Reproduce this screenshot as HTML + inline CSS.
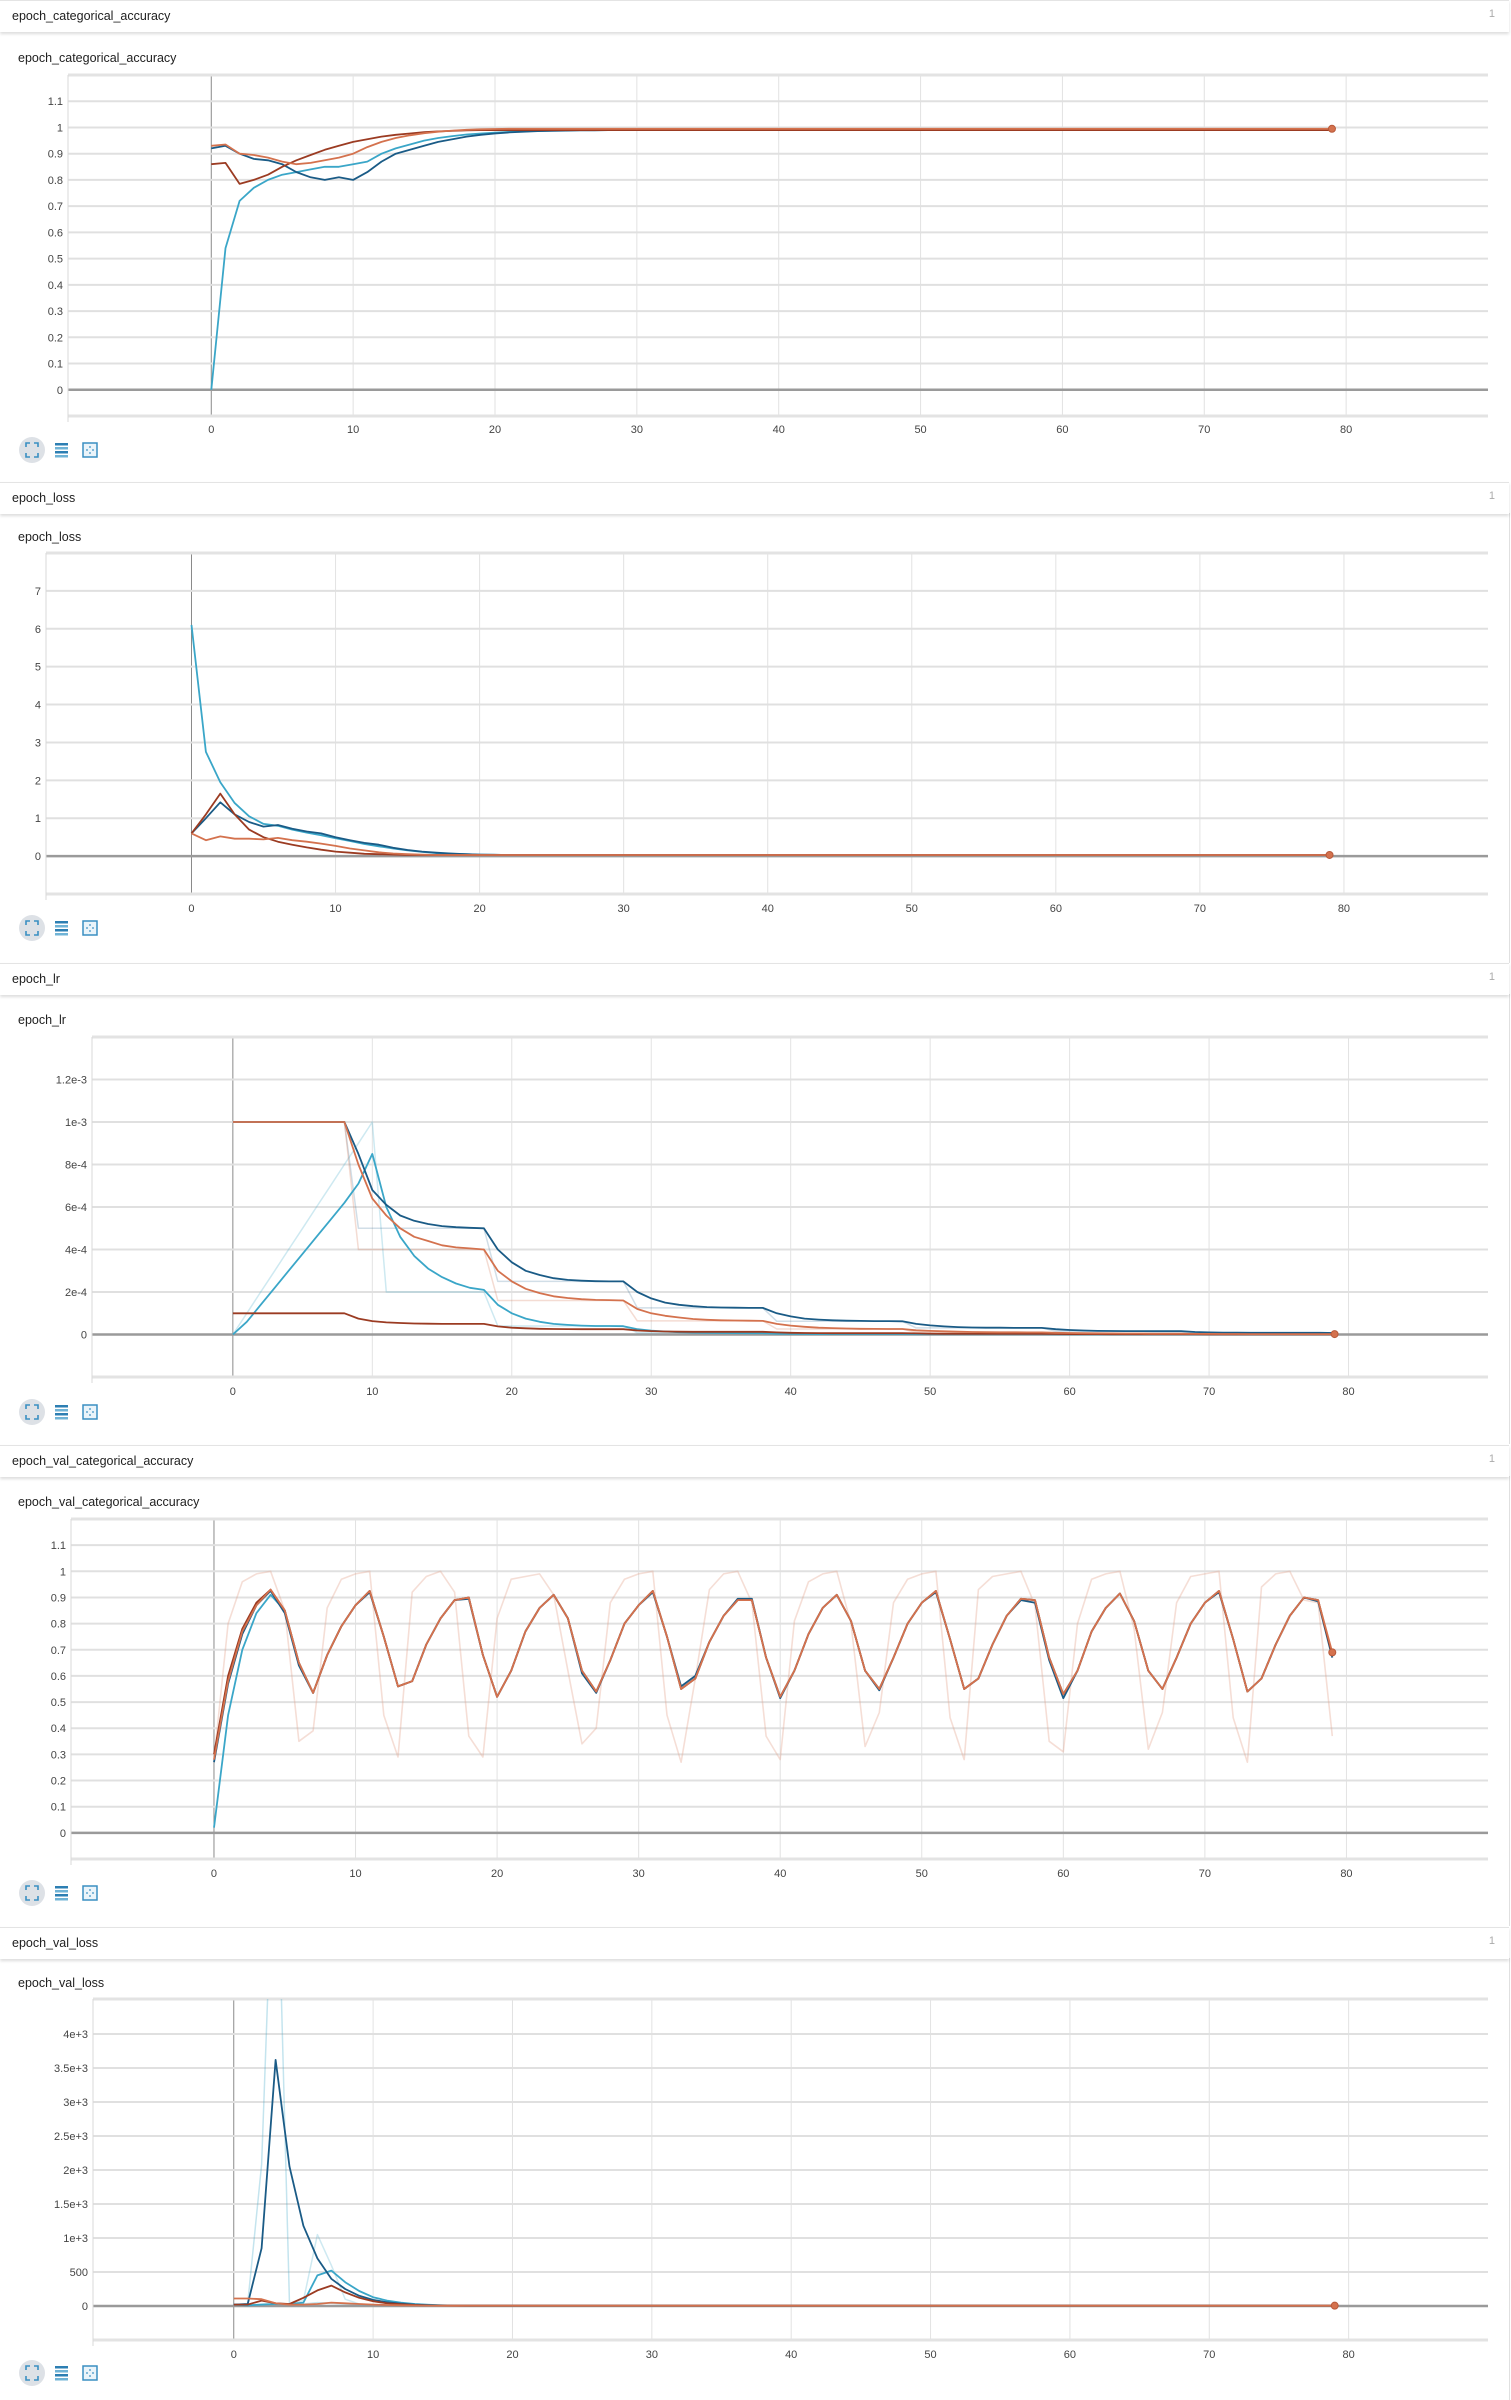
<!DOCTYPE html>
<html><head><meta charset="utf-8">
<style>
body{margin:0;width:1511px;height:2400px;background:#fff;position:relative;overflow:hidden;font-family:"Liberation Sans",sans-serif;color:#212121}
.hdr{position:absolute;left:0;width:1509px;height:31px;background:#fff;border-top:1px solid #e4e4e4;box-shadow:0 2px 3px rgba(0,0,0,0.14);z-index:2}
.hdr .t{position:absolute;left:12px;top:8px;font-size:12.5px}
.hdr .n{position:absolute;right:14px;top:7px;font-size:11px;color:#aaa}
.ctitle{position:absolute;left:18px;font-size:12.5px}
.rb{position:absolute;left:1509px;width:1px;background:#e0e0e0}
svg{position:absolute;left:0;top:0}
</style></head><body>
<div class="hdr" style="top:0"><span class="t">epoch_categorical_accuracy</span><span class="n">1</span></div>
<div class="ctitle" style="top:51px">epoch_categorical_accuracy</div>
<div class="rb" style="top:513px;height:450px"></div>
<div class="hdr" style="top:482px"><span class="t">epoch_loss</span><span class="n">1</span></div>
<div class="ctitle" style="top:530px">epoch_loss</div>
<div class="rb" style="top:994px;height:450px"></div>
<div class="hdr" style="top:963px"><span class="t">epoch_lr</span><span class="n">1</span></div>
<div class="ctitle" style="top:1013px">epoch_lr</div>
<div class="rb" style="top:1476px;height:450px"></div>
<div class="hdr" style="top:1445px"><span class="t">epoch_val_categorical_accuracy</span><span class="n">1</span></div>
<div class="ctitle" style="top:1495px">epoch_val_categorical_accuracy</div>
<div class="rb" style="top:1958px;height:442px"></div>
<div class="hdr" style="top:1927px"><span class="t">epoch_val_loss</span><span class="n">1</span></div>
<div class="ctitle" style="top:1976px">epoch_val_loss</div>
<svg id="main" width="1511" height="2400" xmlns="http://www.w3.org/2000/svg"></svg>
<script>
// shared x axis
const xTickValues=[0,10,20,30,40,50,60,70,80];
const xTickLabels=["0","10","20","30","40","50","60","70","80"];

// chart 1: epoch_categorical_accuracy
const accTicks=[0,0.1,0.2,0.3,0.4,0.5,0.6,0.7,0.8,0.9,1,1.1];
const accTickLabels=["0","0.1","0.2","0.3","0.4","0.5","0.6","0.7","0.8","0.9","1","1.1"];
const accLightBlue=[0,0.54,0.72,0.77,0.80,0.82,0.83,0.84,0.85,0.85,0.86,0.87,0.90,0.92,0.935,0.95,0.96,0.967,0.973,0.977,0.98,0.983,0.985,0.987,0.988,0.989,0.99,0.99,0.99,0.99,0.99,0.99,0.99,0.99,0.99,0.99,0.99,0.99,0.99,0.99,0.99,0.99,0.99,0.99,0.99,0.99,0.99,0.99,0.99,0.99,0.99,0.99,0.99,0.99,0.99,0.99,0.99,0.99,0.99,0.99,0.99,0.99,0.99,0.99,0.99,0.99,0.99,0.99,0.99,0.99,0.99,0.99,0.99,0.99,0.99,0.99,0.99,0.99,0.99,0.99];
const accDarkBlue=[0.92,0.93,0.90,0.88,0.875,0.86,0.83,0.81,0.80,0.81,0.80,0.83,0.87,0.90,0.915,0.93,0.945,0.955,0.965,0.972,0.977,0.981,0.984,0.986,0.987,0.988,0.989,0.989,0.99,0.99,0.99,0.99,0.99,0.99,0.99,0.99,0.99,0.99,0.99,0.99,0.99,0.99,0.99,0.99,0.99,0.99,0.99,0.99,0.99,0.99,0.99,0.99,0.99,0.99,0.99,0.99,0.99,0.99,0.99,0.99,0.99,0.99,0.99,0.99,0.99,0.99,0.99,0.99,0.99,0.99,0.99,0.99,0.99,0.99,0.99,0.99,0.99,0.99,0.99,0.99];
const accBrown=[0.86,0.865,0.785,0.80,0.82,0.85,0.875,0.895,0.915,0.93,0.945,0.955,0.965,0.972,0.977,0.982,0.985,0.987,0.989,0.99,0.99,0.99,0.99,0.99,0.99,0.99,0.99,0.99,0.99,0.99,0.99,0.99,0.99,0.99,0.99,0.99,0.99,0.99,0.99,0.99,0.99,0.99,0.99,0.99,0.99,0.99,0.99,0.99,0.99,0.99,0.99,0.99,0.99,0.99,0.99,0.99,0.99,0.99,0.99,0.99,0.99,0.99,0.99,0.99,0.99,0.99,0.99,0.99,0.99,0.99,0.99,0.99,0.99,0.99,0.99,0.99,0.99,0.99,0.99,0.99];
const accOrange=[0.93,0.935,0.90,0.895,0.885,0.87,0.86,0.865,0.875,0.885,0.90,0.925,0.945,0.96,0.97,0.978,0.984,0.988,0.991,0.993,0.994,0.995,0.995,0.995,0.995,0.995,0.995,0.995,0.995,0.995,0.995,0.995,0.995,0.995,0.995,0.995,0.995,0.995,0.995,0.995,0.995,0.995,0.995,0.995,0.995,0.995,0.995,0.995,0.995,0.995,0.995,0.995,0.995,0.995,0.995,0.995,0.995,0.995,0.995,0.995,0.995,0.995,0.995,0.995,0.995,0.995,0.995,0.995,0.995,0.995,0.995,0.995,0.995,0.995,0.995,0.995,0.995,0.995,0.995,0.995];

// chart 2: epoch_loss
const lossTicks=[0,1,2,3,4,5,6,7];
const lossTickLabels=["0","1","2","3","4","5","6","7"];
const lossLightBlue=[6.1,2.75,1.95,1.4,1.05,0.85,0.8,0.7,0.62,0.55,0.47,0.4,0.32,0.26,0.2,0.15,0.11,0.08,0.06,0.05,0.04,0.035,0.03,0.03,0.03,0.03,0.03,0.03,0.03,0.03,0.03,0.03,0.03,0.03,0.03,0.03,0.03,0.03,0.03,0.03,0.03,0.03,0.03,0.03,0.03,0.03,0.03,0.03,0.03,0.03,0.03,0.03,0.03,0.03,0.03,0.03,0.03,0.03,0.03,0.03,0.03,0.03,0.03,0.03,0.03,0.03,0.03,0.03,0.03,0.03,0.03,0.03,0.03,0.03,0.03,0.03,0.03,0.03,0.03,0.03];
const lossDarkBlue=[0.6,1.0,1.42,1.1,0.9,0.78,0.82,0.72,0.65,0.6,0.5,0.42,0.35,0.3,0.22,0.16,0.12,0.09,0.07,0.05,0.04,0.035,0.03,0.03,0.03,0.03,0.03,0.03,0.03,0.03,0.03,0.03,0.03,0.03,0.03,0.03,0.03,0.03,0.03,0.03,0.03,0.03,0.03,0.03,0.03,0.03,0.03,0.03,0.03,0.03,0.03,0.03,0.03,0.03,0.03,0.03,0.03,0.03,0.03,0.03,0.03,0.03,0.03,0.03,0.03,0.03,0.03,0.03,0.03,0.03,0.03,0.03,0.03,0.03,0.03,0.03,0.03,0.03,0.03,0.03];
const lossBrown=[0.6,1.1,1.65,1.1,0.7,0.5,0.38,0.3,0.23,0.17,0.12,0.09,0.06,0.05,0.04,0.03,0.03,0.03,0.03,0.03,0.03,0.03,0.03,0.03,0.03,0.03,0.03,0.03,0.03,0.03,0.03,0.03,0.03,0.03,0.03,0.03,0.03,0.03,0.03,0.03,0.03,0.03,0.03,0.03,0.03,0.03,0.03,0.03,0.03,0.03,0.03,0.03,0.03,0.03,0.03,0.03,0.03,0.03,0.03,0.03,0.03,0.03,0.03,0.03,0.03,0.03,0.03,0.03,0.03,0.03,0.03,0.03,0.03,0.03,0.03,0.03,0.03,0.03,0.03,0.03];
const lossOrange=[0.6,0.42,0.52,0.46,0.46,0.44,0.48,0.42,0.38,0.33,0.27,0.2,0.15,0.1,0.07,0.05,0.04,0.03,0.03,0.03,0.03,0.03,0.03,0.03,0.03,0.03,0.03,0.03,0.03,0.03,0.03,0.03,0.03,0.03,0.03,0.03,0.03,0.03,0.03,0.03,0.03,0.03,0.03,0.03,0.03,0.03,0.03,0.03,0.03,0.03,0.03,0.03,0.03,0.03,0.03,0.03,0.03,0.03,0.03,0.03,0.03,0.03,0.03,0.03,0.03,0.03,0.03,0.03,0.03,0.03,0.03,0.03,0.03,0.03,0.03,0.03,0.03,0.03,0.03,0.03];

// chart 3: epoch_lr (values in units of 1e-4)
const lrTicks=[0,2,4,6,8,10,12];
const lrTickLabels=["0","2e-4","4e-4","6e-4","8e-4","1e-3","1.2e-3"];
const lrLightBlueRaw=[0,1,2,3,4,5,6,7,8,9,10,2,2,2,2,2,2,2,2,0.4,0.4,0.4,0.4,0.4,0.4,0.4,0.4,0.4,0.4,0.08,0.08,0.08,0.08,0.08,0.08,0.08,0.08,0.08,0.08,0.02,0.02,0.02,0.02,0.02,0.02,0.02,0.02,0.02,0.02,0.01,0.01,0.01,0.01,0.01,0.01,0.01,0.01,0.01,0.01,0.01,0.01,0.01,0.01,0.01,0.01,0.01,0.01,0.01,0.01,0.01,0.01,0.01,0.01,0.01,0.01,0.01,0.01,0.01,0.01,0.01];
const lrDarkBlueRaw=[10,10,10,10,10,10,10,10,10,5,5,5,5,5,5,5,5,5,5,2.5,2.5,2.5,2.5,2.5,2.5,2.5,2.5,2.5,2.5,1.25,1.25,1.25,1.25,1.25,1.25,1.25,1.25,1.25,1.25,0.62,0.62,0.62,0.62,0.62,0.62,0.62,0.62,0.62,0.62,0.31,0.31,0.31,0.31,0.31,0.31,0.31,0.31,0.31,0.31,0.16,0.16,0.16,0.16,0.16,0.16,0.16,0.16,0.16,0.16,0.08,0.08,0.08,0.08,0.08,0.08,0.08,0.08,0.08,0.08,0.08];
const lrOrangeRaw=[10,10,10,10,10,10,10,10,10,4,4,4,4,4,4,4,4,4,4,1.6,1.6,1.6,1.6,1.6,1.6,1.6,1.6,1.6,1.6,0.64,0.64,0.64,0.64,0.64,0.64,0.64,0.64,0.64,0.64,0.26,0.26,0.26,0.26,0.26,0.26,0.26,0.26,0.26,0.26,0.1,0.1,0.1,0.1,0.1,0.1,0.1,0.1,0.1,0.1,0.04,0.04,0.04,0.04,0.04,0.04,0.04,0.04,0.04,0.04,0.02,0.02,0.02,0.02,0.02,0.02,0.02,0.02,0.02,0.02,0.02];
const lrLightBlue=[0,0.6,1.4,2.2,3.0,3.8,4.6,5.4,6.2,7.1,8.5,6.0,4.6,3.7,3.1,2.7,2.4,2.2,2.1,1.4,1.0,0.75,0.6,0.5,0.45,0.42,0.4,0.4,0.39,0.25,0.18,0.14,0.11,0.09,0.08,0.07,0.065,0.06,0.06,0.04,0.03,0.025,0.02,0.02,0.02,0.02,0.02,0.02,0.02,0.015,0.015,0.015,0.015,0.015,0.015,0.015,0.015,0.015,0.015,0.01,0.01,0.01,0.01,0.01,0.01,0.01,0.01,0.01,0.01,0.01,0.01,0.01,0.01,0.01,0.01,0.01,0.01,0.01,0.01,0.01];
const lrDarkBlue=[10,10,10,10,10,10,10,10,10,8.5,6.8,6.1,5.6,5.35,5.2,5.1,5.05,5.02,5.0,4.0,3.4,3.0,2.8,2.65,2.57,2.53,2.51,2.5,2.5,2.0,1.7,1.5,1.4,1.33,1.29,1.27,1.26,1.25,1.25,1.0,0.85,0.75,0.7,0.67,0.65,0.64,0.63,0.63,0.62,0.5,0.43,0.38,0.35,0.33,0.32,0.32,0.31,0.31,0.31,0.25,0.21,0.19,0.17,0.165,0.16,0.16,0.155,0.155,0.155,0.12,0.1,0.09,0.085,0.08,0.08,0.08,0.078,0.078,0.078,0.07];
const lrBrown=[1,1,1,1,1,1,1,1,1,0.75,0.63,0.57,0.54,0.52,0.51,0.5,0.5,0.5,0.5,0.38,0.32,0.29,0.27,0.26,0.255,0.25,0.25,0.25,0.25,0.19,0.16,0.14,0.13,0.125,0.125,0.125,0.125,0.125,0.125,0.1,0.08,0.07,0.065,0.063,0.062,0.062,0.062,0.062,0.062,0.05,0.04,0.035,0.033,0.032,0.031,0.031,0.031,0.031,0.031,0.025,0.02,0.018,0.017,0.016,0.016,0.016,0.016,0.016,0.016,0.012,0.01,0.009,0.008,0.008,0.008,0.008,0.008,0.008,0.008,0.008];
const lrOrange=[10,10,10,10,10,10,10,10,10,8.0,6.4,5.6,5.0,4.6,4.4,4.2,4.1,4.05,4.0,3.0,2.5,2.15,1.95,1.8,1.72,1.66,1.63,1.62,1.6,1.2,1.0,0.88,0.8,0.73,0.69,0.67,0.66,0.65,0.64,0.5,0.42,0.36,0.32,0.3,0.28,0.27,0.265,0.26,0.26,0.2,0.17,0.15,0.13,0.12,0.11,0.105,0.105,0.1,0.1,0.08,0.07,0.06,0.055,0.05,0.045,0.045,0.04,0.04,0.04,0.03,0.03,0.025,0.025,0.02,0.02,0.02,0.02,0.02,0.02,0.02];

// chart 4: epoch_val_categorical_accuracy
const vaccTicks=[0,0.1,0.2,0.3,0.4,0.5,0.6,0.7,0.8,0.9,1,1.1];
const vaccTickLabels=["0","0.1","0.2","0.3","0.4","0.5","0.6","0.7","0.8","0.9","1","1.1"];
const vaccRaw=[0.28,0.80,0.96,0.99,1.00,0.85,0.35,0.39,0.86,0.97,0.99,1.00,0.45,0.29,0.92,0.98,1.00,0.92,0.37,0.29,0.82,0.97,0.98,0.99,0.91,0.62,0.34,0.40,0.88,0.97,0.99,1.00,0.45,0.27,0.59,0.93,0.99,1.00,0.88,0.37,0.28,0.81,0.96,0.99,1.00,0.80,0.33,0.46,0.88,0.97,0.99,1.00,0.44,0.28,0.93,0.98,0.99,1.00,0.87,0.35,0.31,0.80,0.97,0.99,1.00,0.78,0.32,0.46,0.88,0.98,0.99,1.00,0.44,0.27,0.94,0.99,1.00,0.89,0.88,0.37];
const vaccLightBlue=[0.02,0.45,0.70,0.84,0.91,0.85,0.65,0.535,0.68,0.79,0.87,0.925,0.75,0.56,0.58,0.72,0.82,0.89,0.90,0.68,0.52,0.62,0.77,0.86,0.91,0.82,0.62,0.54,0.66,0.80,0.87,0.925,0.75,0.55,0.59,0.73,0.83,0.89,0.89,0.67,0.52,0.62,0.76,0.86,0.91,0.81,0.62,0.55,0.67,0.80,0.88,0.925,0.74,0.55,0.59,0.72,0.83,0.895,0.89,0.67,0.53,0.62,0.77,0.86,0.915,0.81,0.62,0.55,0.67,0.80,0.88,0.925,0.74,0.54,0.59,0.72,0.83,0.90,0.89,0.68];
const vaccDarkBlue=[0.27,0.57,0.76,0.87,0.925,0.84,0.64,0.535,0.68,0.79,0.87,0.92,0.75,0.56,0.58,0.72,0.82,0.89,0.895,0.68,0.52,0.62,0.77,0.86,0.91,0.82,0.61,0.535,0.66,0.80,0.87,0.92,0.75,0.56,0.60,0.73,0.83,0.895,0.895,0.67,0.515,0.62,0.76,0.86,0.91,0.81,0.62,0.545,0.67,0.80,0.88,0.92,0.74,0.55,0.59,0.72,0.83,0.89,0.88,0.66,0.515,0.62,0.77,0.86,0.915,0.81,0.62,0.55,0.67,0.80,0.88,0.92,0.74,0.54,0.59,0.72,0.83,0.90,0.885,0.67];
const vaccBrown=[0.30,0.60,0.78,0.88,0.93,0.85,0.65,0.535,0.68,0.79,0.87,0.925,0.75,0.56,0.58,0.72,0.82,0.89,0.90,0.68,0.52,0.62,0.77,0.86,0.91,0.82,0.62,0.54,0.66,0.80,0.87,0.925,0.75,0.55,0.59,0.73,0.83,0.89,0.89,0.67,0.52,0.62,0.76,0.86,0.91,0.81,0.62,0.55,0.67,0.80,0.88,0.925,0.74,0.55,0.59,0.72,0.83,0.895,0.89,0.67,0.53,0.62,0.77,0.86,0.915,0.81,0.62,0.55,0.67,0.80,0.88,0.925,0.74,0.54,0.59,0.72,0.83,0.90,0.89,0.68];
const vaccOrange=[0.28,0.58,0.77,0.87,0.93,0.85,0.65,0.535,0.68,0.79,0.87,0.925,0.75,0.56,0.58,0.72,0.82,0.89,0.90,0.68,0.52,0.62,0.77,0.86,0.91,0.82,0.62,0.54,0.66,0.80,0.87,0.925,0.75,0.55,0.59,0.73,0.83,0.89,0.89,0.67,0.52,0.62,0.76,0.86,0.91,0.81,0.62,0.55,0.67,0.80,0.88,0.925,0.74,0.55,0.59,0.72,0.83,0.895,0.89,0.67,0.53,0.62,0.77,0.86,0.915,0.81,0.62,0.55,0.67,0.80,0.88,0.925,0.74,0.54,0.59,0.72,0.83,0.90,0.89,0.69];

// chart 5: epoch_val_loss
const vlossTicks=[0,500,1000,1500,2000,2500,3000,3500,4000];
const vlossTickLabels=["0","500","1e+3","1.5e+3","2e+3","2.5e+3","3e+3","3.5e+3","4e+3"];
const vlossDarkBlueRaw=[20,35,2080,7775,20,30,50,40,30,20,15,10,8,6,5,5,5,5,5,5,5,5,5,5,5,5,5,5,5,5,5,5,5,5,5,5,5,5,5,5,5,5,5,5,5,5,5,5,5,5,5,5,5,5,5,5,5,5,5,5,5,5,5,5,5,5,5,5,5,5,5,5,5,5,5,5,5,5,5,5];
const vlossLightBlueRaw=[20,5,30,40,30,80,1050,600,100,30,20,10,8,6,5,5,5,5,5,5,5,5,5,5,5,5,5,5,5,5,5,5,5,5,5,5,5,5,5,5,5,5,5,5,5,5,5,5,5,5,5,5,5,5,5,5,5,5,5,5,5,5,5,5,5,5,5,5,5,5,5,5,5,5,5,5,5,5,5,5];
const vlossDarkBlue=[20,30,850,3620,2050,1180,700,400,250,150,90,55,35,20,12,8,6,5,5,5,5,5,5,5,5,5,5,5,5,5,5,5,5,5,5,5,5,5,5,5,5,5,5,5,5,5,5,5,5,5,5,5,5,5,5,5,5,5,5,5,5,5,5,5,5,5,5,5,5,5,5,5,5,5,5,5,5,5,5,5];
const vlossLightBlue=[20,10,20,30,30,50,450,520,350,220,130,80,50,30,18,10,6,5,5,5,5,5,5,5,5,5,5,5,5,5,5,5,5,5,5,5,5,5,5,5,5,5,5,5,5,5,5,5,5,5,5,5,5,5,5,5,5,5,5,5,5,5,5,5,5,5,5,5,5,5,5,5,5,5,5,5,5,5,5,5];
const vlossBrown=[20,20,80,40,30,120,230,300,200,120,70,40,25,15,8,6,5,5,5,5,5,5,5,5,5,5,5,5,5,5,5,5,5,5,5,5,5,5,5,5,5,5,5,5,5,5,5,5,5,5,5,5,5,5,5,5,5,5,5,5,5,5,5,5,5,5,5,5,5,5,5,5,5,5,5,5,5,5,5,5];
const vlossOrange=[110,110,100,40,20,20,30,50,40,30,20,15,10,8,6,5,5,5,5,5,5,5,5,5,5,5,5,5,5,5,5,5,5,5,5,5,5,5,5,5,5,5,5,5,5,5,5,5,5,5,5,5,5,5,5,5,5,5,5,5,5,5,5,5,5,5,5,5,5,5,5,5,5,5,5,5,5,5,5,5];

const C_LB="#3aa6c8",C_DB="#1a5b86",C_BR="#9b3b22",C_OR="#d4724e";
const NS="http://www.w3.org/2000/svg";
const svg=document.getElementById('main');
function el(tag,attrs,parent){const e=document.createElementNS(NS,tag);for(const k in attrs)e.setAttribute(k,attrs[k]);(parent||svg).appendChild(e);return e;}

function chart(name,cfg){
  const g=el('g',{});
  
  
  const L=cfg.left,R=1488,T=cfg.top,B=cfg.bottom;
  const xs=v=>L+(v-(-10.1))/(90-(-10.1))*(R-L);
  const ys=v=>B-(v-cfg.yMin)/(cfg.yMax-cfg.yMin)*(B-T);
  xTickValues.forEach((v,i)=>{
    const ln=el('line',{x1:xs(v),x2:xs(v),y1:T,y2:B,stroke:v===0?'#8a8a8a':'#e2e2e2','stroke-width':1},g);
    
    
    const t=el('text',{x:xs(v),y:cfg.tickY,'text-anchor':'middle','font-size':11,fill:'#444','font-family':'Liberation Sans, sans-serif'},g);
    t.textContent=xTickLabels[i];
    
    
  });
  cfg.ticks.forEach((v,i)=>{
    const ln=el('line',{x1:L,x2:R,y1:ys(v),y2:ys(v),stroke:v===0?'#9a9a9a':'#e0e0e0','stroke-width':v===0?2.5:2},g);
    
    
    const t=el('text',{x:L-5,y:ys(v)+4,'text-anchor':'end','font-size':11,fill:'#444','font-family':'Liberation Sans, sans-serif'},g);
    t.textContent=cfg.tickLabels[i];
    
    
  });
  el('line',{x1:L,x2:R,y1:T,y2:T,stroke:'#e3e3e3','stroke-width':3},g);
  el('line',{x1:L,x2:R,y1:B,y2:B,stroke:'#e3e3e3','stroke-width':3},g);
  el('line',{x1:L,x2:L,y1:T,y2:B+6,stroke:'#d8d8d8','stroke-width':1},g);
  const cid='clip-'+name;
  const cp=el('clipPath',{id:cid},g);
  el('rect',{x:L,y:T,width:R-L,height:B-T},cp);
  const sg=el('g',{'clip-path':'url(#'+cid+')'},g);
  cfg.series.forEach(s=>{
    const d=s.vals.map((v,i)=>(i?'L':'M')+xs(i).toFixed(1)+','+ys(v).toFixed(1)).join('');
    const p=el('path',{d:d,fill:'none',stroke:s.color,'stroke-width':s.w||1.8,'stroke-opacity':s.op||1,'stroke-linejoin':'round'},sg);
    
    
  });
  const last=cfg.series[cfg.series.length-1].vals;
  const dot=el('circle',{cx:xs(last.length-1),cy:ys(last[last.length-1]),r:3.5,fill:C_OR,stroke:'#b8593a','stroke-width':1},g);
  
  
  const iy=cfg.iconY;
  const c=el('circle',{cx:32,cy:iy,r:13,fill:'#dde1e6'},g);
  
  
  el('path',{d:`M26 ${iy-3}v-4h4M34 ${iy-7}h4v4M38 ${iy+3}v4h-4M30 ${iy+7}h-4v-4`,fill:'none',stroke:'#3a8fc2','stroke-width':1.6},g);
  const lg=el('g',{},g);
  
  
  for(let k=0;k<4;k++) el('rect',{x:55,y:iy-7+k*4,width:13,height:2.5,fill:k%2?'#6fb3d6':'#2d7fb3'},lg);
  const fb=el('g',{},g);
  
  
  el('rect',{x:83,y:iy-7,width:14,height:14,fill:'#eaf4fa',stroke:'#3a8fc2','stroke-width':1.5},fb);
  el('circle',{cx:90,cy:iy-3,r:0.9,fill:'#3a8fc2'},fb);
  el('circle',{cx:90,cy:iy+3,r:0.9,fill:'#3a8fc2'},fb);
  el('circle',{cx:87,cy:iy,r:0.9,fill:'#3a8fc2'},fb);
  el('circle',{cx:93,cy:iy,r:0.9,fill:'#3a8fc2'},fb);
}

chart('accuracy',{left:68,top:75,bottom:416,yMin:-0.1,yMax:1.2,ticks:accTicks,tickLabels:accTickLabels,tickY:433,iconY:450,
 series:[{name:'acc-run-lightblue',vals:accLightBlue,color:C_LB},{name:'acc-run-darkblue',vals:accDarkBlue,color:C_DB},{name:'acc-run-brown',vals:accBrown,color:C_BR},{name:'acc-run-orange',vals:accOrange,color:C_OR}]});
chart('loss',{left:46,top:553,bottom:894,yMin:-1,yMax:8,ticks:lossTicks,tickLabels:lossTickLabels,tickY:912,iconY:928,
 series:[{name:'loss-run-lightblue',vals:lossLightBlue,color:C_LB},{name:'loss-run-darkblue',vals:lossDarkBlue,color:C_DB},{name:'loss-run-brown',vals:lossBrown,color:C_BR},{name:'loss-run-orange',vals:lossOrange,color:C_OR}]});
chart('lr',{left:92,top:1037,bottom:1377,yMin:-2,yMax:14,ticks:lrTicks,tickLabels:lrTickLabels,tickY:1395,iconY:1412,
 series:[{name:'lr-raw-lightblue',vals:lrLightBlueRaw,color:C_LB,op:0.25,w:1.5},{name:'lr-raw-darkblue',vals:lrDarkBlueRaw,color:C_DB,op:0.2,w:1.5},{name:'lr-raw-orange',vals:lrOrangeRaw,color:C_OR,op:0.25,w:1.5},
  {name:'lr-run-lightblue',vals:lrLightBlue,color:C_LB},{name:'lr-run-darkblue',vals:lrDarkBlue,color:C_DB},{name:'lr-run-brown',vals:lrBrown,color:C_BR},{name:'lr-run-orange',vals:lrOrange,color:C_OR}]});
chart('val-accuracy',{left:71,top:1519,bottom:1859,yMin:-0.1,yMax:1.2,ticks:vaccTicks,tickLabels:vaccTickLabels,tickY:1877,iconY:1893,
 series:[{name:'val-acc-raw',vals:vaccRaw,color:'#e3a08a',op:0.35,w:1.6},{name:'val-acc-run-lightblue',vals:vaccLightBlue,color:C_LB},{name:'val-acc-run-darkblue',vals:vaccDarkBlue,color:C_DB},{name:'val-acc-run-brown',vals:vaccBrown,color:C_BR},{name:'val-acc-run-orange',vals:vaccOrange,color:C_OR}]});
chart('val-loss',{left:93,top:1999,bottom:2340,yMin:-500,yMax:4515,ticks:vlossTicks,tickLabels:vlossTickLabels,tickY:2358,iconY:2373,
 series:[{name:'val-loss-raw-darkblue',vals:vlossDarkBlueRaw,color:C_LB,op:0.3,w:1.5},{name:'val-loss-raw-lightblue',vals:vlossLightBlueRaw,color:C_LB,op:0.25,w:1.5},
  {name:'val-loss-run-lightblue',vals:vlossLightBlue,color:C_LB},{name:'val-loss-run-darkblue',vals:vlossDarkBlue,color:C_DB},{name:'val-loss-run-brown',vals:vlossBrown,color:C_BR},{name:'val-loss-run-orange',vals:vlossOrange,color:C_OR}]});
</script>
</body></html>
